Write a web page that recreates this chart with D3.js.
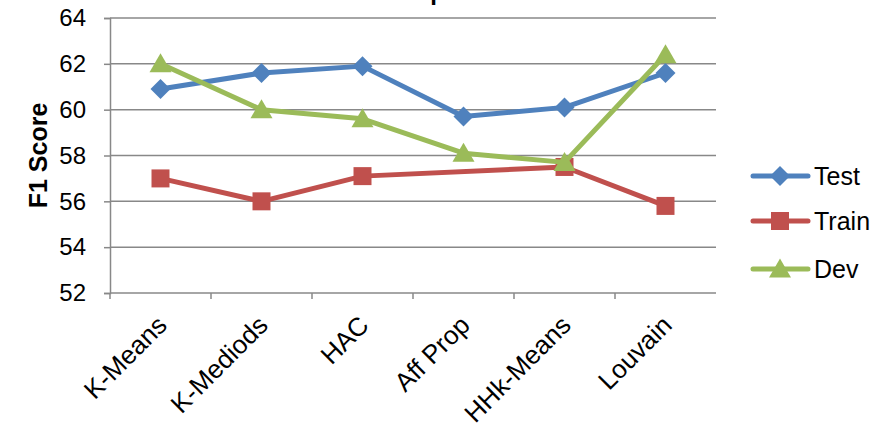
<!DOCTYPE html>
<html>
<head>
<meta charset="utf-8">
<script src="https://cdn.jsdelivr.net/npm/d3@7"></script>
<style>
  html, body { margin: 0; padding: 0; background: #fff; }
  svg { display: block; font-family: "Liberation Sans", Arial, sans-serif; }
</style>
</head>
<body>
<svg id="chart" width="889" height="429"></svg>
<script>
// Clustering methods compared by F1 score
const categories = ["K-Means", "K-Mediods", "HAC", "Aff Prop", "HHk-Means", "Louvain"];
const testScores  = [60.9, 61.6, 61.9, 59.7, 60.1, 61.6];
const trainScores = [57.0, 56.0, 57.1, null, 57.5, 55.8];
const devScores   = [62.0, 60.0, 59.6, 58.1, 57.7, 62.4];
const yTicks = [52, 54, 56, 58, 60, 62, 64];
const seriesNames = ["Test", "Train", "Dev"];

const series = [
  { name: seriesNames[0], values: testScores,  color: "#4F81BD", marker: "diamond" },
  { name: seriesNames[1], values: trainScores, color: "#C0504D", marker: "square" },
  { name: seriesNames[2], values: devScores,   color: "#9BBB59", marker: "triangle" }
];

const svg = d3.select("#chart");
const plot = { left: 110, right: 716, top: 18, bottom: 293 };

const x = d3.scaleBand().domain(categories).range([plot.left, plot.right]);
const y = d3.scaleLinear().domain([52, 64]).range([plot.bottom, plot.top]);
const xc = d => x(d) + x.bandwidth() / 2;

// chart title, sitting above the top edge
svg.append("text")
  .attr("x", 377).attr("y", 0)
  .attr("font-size", 24).attr("font-weight", "bold")
  .attr("fill", "#000")
  .text("Comparison");

// horizontal gridlines
svg.append("g").selectAll("line")
  .data(yTicks.filter(t => t !== 52))
  .join("line")
  .attr("x1", plot.left).attr("x2", plot.right)
  .attr("y1", d => y(d)).attr("y2", d => y(d))
  .attr("stroke", "#888").attr("stroke-width", 1.5);

// y axis
const yAxis = svg.append("g")
  .attr("transform", `translate(${plot.left},0)`)
  .call(d3.axisLeft(y).tickValues(yTicks).tickSize(6).tickPadding(18));
yAxis.select(".domain").attr("stroke", "#888").attr("stroke-width", 1.5);
yAxis.selectAll(".tick line").attr("stroke", "#888").attr("stroke-width", 1.5);
yAxis.selectAll(".tick text")
  .attr("font-size", 24).attr("fill", "#000")
  .attr("font-family", "Liberation Sans, Arial, sans-serif");

// x axis with ticks at category boundaries
const xAxis = svg.append("g").attr("transform", `translate(0,${plot.bottom})`);
xAxis.append("line")
  .attr("x1", plot.left).attr("x2", plot.right)
  .attr("stroke", "#888").attr("stroke-width", 1.5);
xAxis.selectAll("line.tk")
  .data(categories)
  .join("line").attr("class", "tk")
  .attr("x1", d => x(d)).attr("x2", d => x(d))
  .attr("y1", 0).attr("y2", 6)
  .attr("stroke", "#888").attr("stroke-width", 1.5);
xAxis.selectAll("text")
  .data(categories)
  .join("text")
  .attr("transform", d => `translate(${xc(d) - 5},${21}) rotate(-45)`)
  .attr("text-anchor", "end")
  .attr("dy", "0.7em")
  .attr("font-size", 26).attr("fill", "#000")
  .text(d => d);

// y axis title
svg.append("text")
  .attr("transform", `translate(47,${(plot.top + plot.bottom) / 2}) rotate(-90)`)
  .attr("text-anchor", "middle")
  .attr("font-size", 25).attr("font-weight", "bold").attr("fill", "#000")
  .text("F1 Score");

function markerPath(type, size) {
  const r = size / 2;
  if (type === "diamond") return `M0,${-r}L${r},0L0,${r}L${-r},0Z`;
  if (type === "square") return `M${-r},${-r}H${r}V${r}H${-r}Z`;
  return `M0,${-r * 1.05}L${r * 1.1},${r * 0.85}L${-r * 1.1},${r * 0.85}Z`;
}
const markerSize = { diamond: 20, square: 18, triangle: 20 };

const line = d3.line()
  .defined(d => d.v != null)
  .x(d => xc(d.c)).y(d => y(d.v));

series.forEach(s => {
  const pts = categories.map((c, i) => ({ c, v: s.values[i] })).filter(d => d.v != null);
  const g = svg.append("g");
  g.append("path")
    .datum(pts)
    .attr("d", line)
    .attr("fill", "none")
    .attr("stroke", s.color).attr("stroke-width", 5)
    .attr("stroke-linejoin", "round").attr("stroke-linecap", "round");
  g.selectAll("path.m")
    .data(pts)
    .join("path").attr("class", "m")
    .attr("transform", d => `translate(${xc(d.c)},${y(d.v)})`)
    .attr("d", markerPath(s.marker, markerSize[s.marker]))
    .attr("fill", s.color);
});

// legend
const legendY = [176, 221, 269];
const lg = svg.append("g");
series.forEach((s, i) => {
  const g = lg.append("g").attr("transform", `translate(0,${legendY[i]})`);
  g.append("line")
    .attr("x1", 753).attr("x2", 808)
    .attr("stroke", s.color).attr("stroke-width", 5).attr("stroke-linecap", "round");
  g.append("path")
    .attr("transform", "translate(780,0)")
    .attr("d", markerPath(s.marker, markerSize[s.marker]))
    .attr("fill", s.color);
  g.append("text")
    .attr("x", 814).attr("dy", "0.36em")
    .attr("font-size", 25).attr("fill", "#000")
    .text(s.name);
});
</script>
</body>
</html>
